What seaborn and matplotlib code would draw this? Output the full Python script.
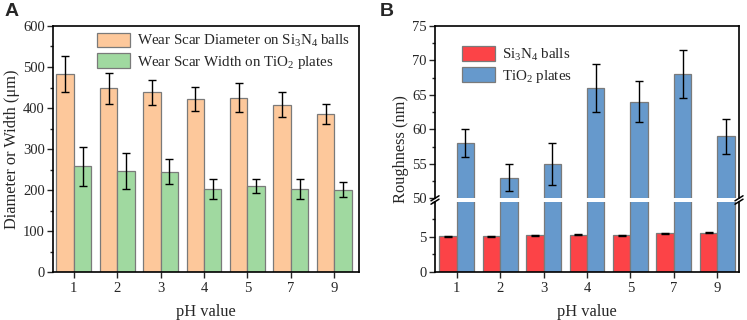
import numpy as np
import pandas as pd
import matplotlib
matplotlib.use("Agg")
import matplotlib.pyplot as plt
from matplotlib.lines import Line2D
from matplotlib.ticker import MultipleLocator
import seaborn as sns

# ---------------- data ----------------
ph_values = ["1", "2", "3", "4", "5", "7", "9"]

diam_si3n4 = [482, 448, 438, 422, 425, 408, 385]
diam_si3n4_err = [44, 38, 30, 30, 35, 30, 25]
width_tio2 = [258, 246, 245, 202, 210, 202, 201]
width_tio2_err = [48, 44, 30, 25, 18, 25, 18]

rough_si3n4 = [5.10, 5.05, 5.20, 5.30, 5.25, 5.50, 5.60]
rough_si3n4_err = [0.08, 0.08, 0.08, 0.08, 0.08, 0.08, 0.08]
rough_tio2 = [58, 53, 55, 66, 64, 68, 59]
rough_tio2_err = [2.0, 2.0, 3.0, 3.5, 3.0, 3.5, 2.5]

lab_a1 = "Wear Scar Diameter on Si$_\\mathregular{3}$N$_\\mathregular{4}$ balls"
lab_a2 = "Wear Scar Width on TiO$_\\mathregular{2}$ plates"
lab_b1 = "Si$_\\mathregular{3}$N$_\\mathregular{4}$ balls"
lab_b2 = "TiO$_\\mathregular{2}$ plates"

# ---------------- style ----------------
sns.set_theme(style="ticks")
plt.rcParams["font.family"] = ["Liberation Serif", "DejaVu Serif"]
plt.rcParams["mathtext.fontset"] = "custom"
plt.rcParams["mathtext.rm"] = "Liberation Serif"
plt.rcParams["mathtext.it"] = "Liberation Serif:italic"
plt.rcParams["mathtext.bf"] = "Liberation Serif:bold"
plt.rcParams["axes.linewidth"] = 1.2

C_OR = "#FDC89B"
C_GR = "#A0D9A0"
C_RD = "#FC4347"
C_BL = "#6699CC"
EDGE = "#7a7a7a"

TICK_FS = 10.5
LAB_FS = 11.8
LEG_FS = 10.8

W, H = 747, 320
fig = plt.figure(figsize=(W / 100, H / 100), dpi=100)


def fx(px):
    return px / W


def fy(py):
    return 1 - py / H


def style_ax(ax, major, minor, show_x=True):
    ax.yaxis.set_major_locator(MultipleLocator(major))
    ax.yaxis.set_minor_locator(MultipleLocator(minor))
    ax.tick_params(axis="y", which="major", direction="out", length=4, width=1,
                   labelsize=TICK_FS, right=False, pad=2)
    ax.tick_params(axis="y", which="minor", direction="out", length=2.5, width=1, right=False)
    ax.tick_params(axis="x", which="major", direction="out", length=4, width=1,
                   labelsize=TICK_FS, top=False, bottom=show_x, labelbottom=show_x, pad=3)
    ax.tick_params(axis="x", which="minor", bottom=False, top=False)
    for s in ax.spines.values():
        s.set_linewidth(1.2)
        s.set_color("black")


def add_err(ax, container, vals, errs):
    bars = sorted(container.patches if hasattr(container, "patches") else list(container),
                  key=lambda b: b.get_x())
    xs = [b.get_x() + b.get_width() / 2 for b in bars]
    ax.errorbar(xs, vals, yerr=errs, fmt="none", ecolor="black", elinewidth=1,
                capsize=3, capthick=1, zorder=5)


# ---------------- panel A ----------------
dfa = pd.DataFrame({
    "pH": ph_values * 2,
    "val": diam_si3n4 + width_tio2,
    "series": [lab_a1] * len(ph_values) + [lab_a2] * len(ph_values),
})
axA = fig.add_axes([fx(53), fy(272), fx(359) - fx(53), fy(26) - fy(272)])
sns.barplot(data=dfa, x="pH", y="val", hue="series", order=ph_values,
            hue_order=[lab_a1, lab_a2], palette=[C_OR, C_GR], saturation=1,
            errorbar=None, width=0.8, edgecolor=EDGE, linewidth=0.9, ax=axA)
add_err(axA, axA.containers[0], diam_si3n4, diam_si3n4_err)
add_err(axA, axA.containers[1], width_tio2, width_tio2_err)
axA.set_ylim(0, 600)
axA.set_xlim(-0.48, 6.57)
style_ax(axA, 100, 50)
axA.set_xlabel("pH value", fontsize=LAB_FS, labelpad=7)
axA.set_ylabel("Diameter or Width (μm)", fontsize=LAB_FS, labelpad=2)
h, l = axA.get_legend_handles_labels()
axA.legend(h, l, loc="upper right", frameon=False, fontsize=LEG_FS,
           handlelength=2.2, handleheight=1.1, handletextpad=0.45,
           labelspacing=0.3, borderaxespad=0.2, bbox_to_anchor=(1.0, 1.01))

# ---------------- panel B (broken axis) ----------------
dfb = pd.DataFrame({
    "pH": ph_values * 2,
    "val": rough_si3n4 + rough_tio2,
    "series": [lab_b1] * len(ph_values) + [lab_b2] * len(ph_values),
})
bl, br = 435, 739
axBt = fig.add_axes([fx(bl), fy(198.3), fx(br) - fx(bl), fy(26) - fy(198.3)])
axBb = fig.add_axes([fx(bl), fy(272), fx(br) - fx(bl), fy(201.7) - fy(272)])

for ax in (axBt, axBb):
    sns.barplot(data=dfb, x="pH", y="val", hue="series", order=ph_values,
                hue_order=[lab_b1, lab_b2], palette=[C_RD, C_BL], saturation=1,
                errorbar=None, width=0.8, edgecolor=EDGE, linewidth=0.9, ax=ax)
    ax.set_xlim(-0.5, 6.5)

add_err(axBt, axBt.containers[1], rough_tio2, rough_tio2_err)
add_err(axBb, axBb.containers[0], rough_si3n4, rough_si3n4_err)

axBt.set_ylim(50, 75)
axBb.set_ylim(0, 10)
style_ax(axBt, 5, 2.5, show_x=False)
style_ax(axBb, 5, 2.5, show_x=True)
axBb.set_yticks([0, 5])
axBt.spines["bottom"].set_visible(False)
axBb.spines["top"].set_visible(False)
axBt.set_xlabel("")
axBt.set_ylabel("")
axBb.set_ylabel("")
axBb.set_xlabel("pH value", fontsize=LAB_FS, labelpad=7)
axBb.get_legend().remove()
h, l = axBt.get_legend_handles_labels()
axBt.legend(h, l, loc="upper left", frameon=False, fontsize=LEG_FS,
            handlelength=2.2, handleheight=1.1, handletextpad=0.45,
            labelspacing=0.3, bbox_to_anchor=(0.045, 0.96))

fig.text(fx(401), fy(149), "Roughness (nm)", rotation=90, fontsize=LAB_FS,
         ha="center", va="center")

# break marks
for xpix in (bl, br):
    for ypix in (198.3, 201.7):
        fig.add_artist(Line2D([fx(xpix - 4), fx(xpix + 4)], [fy(ypix + 2.5), fy(ypix - 2.5)],
                              transform=fig.transFigure, color="black", lw=1.1))

# panel labels
fig.text(fx(5), fy(3), "A", fontsize=14, fontweight="bold", family="Liberation Sans",
         ha="left", va="top")
fig.text(fx(380), fy(3), "B", fontsize=14, fontweight="bold", family="Liberation Sans",
         ha="left", va="top")

fig.savefig("out.png", dpi=100)
